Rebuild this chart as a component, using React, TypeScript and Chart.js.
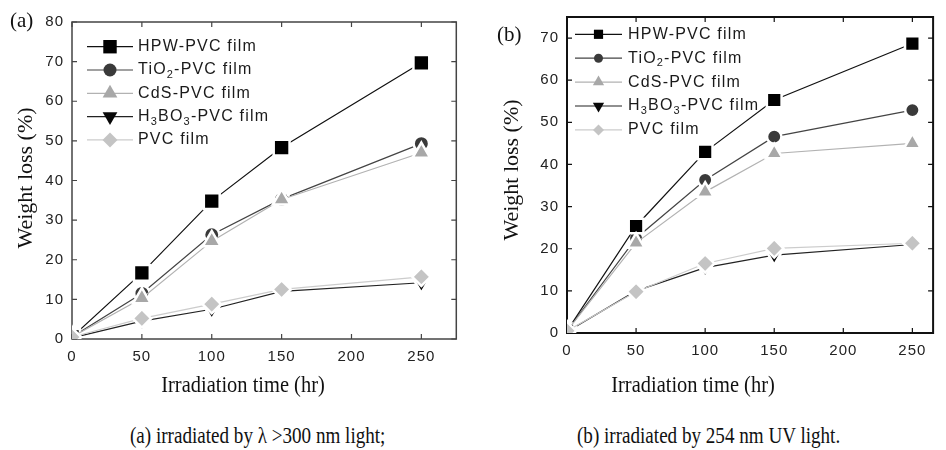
import React, { useEffect, useRef } from 'react';
import { Chart, registerables } from 'chart.js';

Chart.register(...registerables);

// ---------- data ----------
const TIMES = [0, 50, 100, 150, 250];
const X_TICKS = [0, 50, 100, 150, 200, 250];

// (a) irradiated by λ > 300 nm light
const A_HPW = [0.5, 16.7, 34.8, 48.3, 69.7];
const A_TIO2 = [0.5, 11.5, 26.3, 35.3, 49.3];
const A_CDS = [0.5, 10.3, 24.7, 35.2, 47.0];
const A_H3BO3 = [0.3, 4.5, 7.5, 12.0, 14.2];
const A_PVC = [0.5, 5.2, 8.8, 12.5, 15.7];
const A_Y_TICKS = [0, 10, 20, 30, 40, 50, 60, 70, 80];

// (b) irradiated by 254 nm UV light
const B_HPW = [0.5, 25.4, 43.0, 55.3, 68.7];
const B_TIO2 = [0.5, 22.5, 36.3, 46.6, 52.9];
const B_CDS = [0.5, 21.4, 33.5, 42.6, 45.0];
const B_H3BO3 = [0.3, 10.0, 15.5, 18.5, 21.0];
const B_PVC = [0.5, 9.8, 16.5, 20.1, 21.3];
const B_Y_TICKS = [0, 10, 20, 30, 40, 50, 60, 70];

type Seg = { t: string; sub?: boolean };
const SERIES_NAMES: Seg[][] = [
  [{ t: 'HPW-PVC film' }],
  [{ t: 'TiO' }, { t: '2', sub: true }, { t: '-PVC film' }],
  [{ t: 'CdS-PVC film' }],
  [{ t: 'H' }, { t: '3', sub: true }, { t: 'BO' }, { t: '3', sub: true }, { t: '-PVC film' }],
  [{ t: 'PVC film' }],
];
const MARKER_COLORS = ['#000000', '#3a3a3a', '#a8a8a8', '#080808', '#c4c4c4'];
const LINE_COLORS = ['#111111', '#444444', '#b2b2b2', '#222222', '#cccccc'];
const MARKERS = ['rect', 'circle', 'triangle', 'triangle', 'rectRot'];
const MARKER_ROT = [0, 0, 0, 180, 0];
const DRAW_ORDER = [2, 3, 1, 4, 0];

const SANS = '"Liberation Sans", Arial, sans-serif';
const SERIF = '"Liberation Serif", "Times New Roman", serif';

function drawMarker(ctx: CanvasRenderingContext2D, style: string, rot: number, x: number, y: number, r: number, color: string) {
  ctx.save();
  ctx.fillStyle = color;
  ctx.beginPath();
  if (style === 'rect') {
    const s = r * Math.SQRT1_2;
    ctx.rect(x - s, y - s, 2 * s, 2 * s);
  } else if (style === 'circle') {
    ctx.arc(x, y, r, 0, Math.PI * 2);
  } else if (style === 'triangle') {
    const d = rot === 180 ? -1 : 1;
    ctx.moveTo(x, y - d * r);
    ctx.lineTo(x + r * 0.866, y + d * r * 0.5);
    ctx.lineTo(x - r * 0.866, y + d * r * 0.5);
    ctx.closePath();
  } else {
    ctx.moveTo(x, y - r);
    ctx.lineTo(x + r, y);
    ctx.lineTo(x, y + r);
    ctx.lineTo(x - r, y);
    ctx.closePath();
  }
  ctx.fill();
  ctx.restore();
}

const framePlugin = {
  id: 'frameTicks',
  beforeDraw(chart: any) {
    (chart.ctx as any).letterSpacing = '1px';
  },
  beforeDatasetsDraw(chart: any, _a: any, opts: any) {
    const { ctx, chartArea } = chart;
    const { left, top, right, bottom } = chartArea;
    ctx.save();
    ctx.strokeStyle = opts.color;
    ctx.lineWidth = opts.width;
    ctx.strokeRect(left, top, right - left, bottom - top);
    ctx.lineWidth = 1.2;
    const L = 5;
    ctx.beginPath();
    chart.scales.x.ticks.forEach((t: any) => {
      const x = chart.scales.x.getPixelForValue(t.value);
      ctx.moveTo(x, bottom);
      ctx.lineTo(x, bottom - L);
      ctx.moveTo(x, top);
      ctx.lineTo(x, top + L);
    });
    chart.scales.y.ticks.forEach((t: any) => {
      const y = chart.scales.y.getPixelForValue(t.value);
      ctx.moveTo(left, y);
      ctx.lineTo(left + L, y);
      ctx.moveTo(right, y);
      ctx.lineTo(right - L, y);
    });
    ctx.stroke();
    ctx.restore();
  },
};

const legendPlugin = {
  id: 'innerLegend',
  afterDraw(chart: any, _a: any, opts: any) {
    const ctx: CanvasRenderingContext2D = chart.ctx;
    ctx.save();
    (ctx as any).letterSpacing = '1.2px';
    SERIES_NAMES.forEach((segs, i) => {
      const y = opts.y0 + i * opts.dy;
      ctx.strokeStyle = LINE_COLORS[i];
      ctx.lineWidth = 1.2;
      ctx.beginPath();
      ctx.moveTo(opts.x1, y);
      ctx.lineTo(opts.x2, y);
      ctx.stroke();
      drawMarker(ctx, MARKERS[i], MARKER_ROT[i], (opts.x1 + opts.x2) / 2, y, opts.radii[i], MARKER_COLORS[i]);
      let x = opts.textX;
      ctx.fillStyle = '#1a1a1a';
      ctx.textAlign = 'left';
      ctx.textBaseline = 'middle';
      segs.forEach((s) => {
        ctx.font = s.sub ? `11px ${SANS}` : `16px ${SANS}`;
        ctx.fillText(s.t, x, s.sub ? y + 5 : y);
        x += ctx.measureText(s.t).width;
      });
    });
    ctx.restore();
    (ctx as any).letterSpacing = '0px';
  },
};

type PanelProps = {
  values: number[][];
  yTicks: number[];
  xMax: number;
  yMax: number;
  width: number;
  height: number;
  area: { left: number; top: number; right: number; bottom: number };
  radii: number[];
  legend: any;
  frameColor: string;
  frameWidth: number;
};

function Panel(p: PanelProps) {
  const ref = useRef<HTMLCanvasElement | null>(null);
  useEffect(() => {
    if (!ref.current) return;
    const datasets = p.values.map((vals, i) => ({
      label: SERIES_NAMES[i].map((s) => s.t).join(''),
      data: TIMES.map((t, k) => ({ x: t, y: vals[k] })),
      borderColor: LINE_COLORS[i],
      borderWidth: 1.2,
      backgroundColor: MARKER_COLORS[i],
      pointBackgroundColor: MARKER_COLORS[i],
      pointBorderColor: '#ffffff',
      pointBorderWidth: 2.5,
      pointStyle: MARKERS[i],
      rotation: MARKER_ROT[i],
      pointRotation: MARKER_ROT[i],
      pointRadius: p.radii[i] + 1.2,
      order: DRAW_ORDER[i],
      tension: 0,
      fill: false,
    }));
    const tickFont = { family: SANS, size: 15 };
    const chart = new Chart(ref.current, {
      type: 'line',
      data: { datasets },
      plugins: [framePlugin, legendPlugin],
      options: {
        responsive: false,
        maintainAspectRatio: false,
        animation: false,
        layout: { padding: { left: 0, top: p.area.top, right: p.width - p.area.right, bottom: 0 } },
        plugins: {
          legend: { display: false },
          tooltip: { enabled: false },
          frameTicks: { color: p.frameColor, width: p.frameWidth },
          innerLegend: p.legend,
        } as any,
        scales: {
          x: {
            type: 'linear',
            min: 0,
            max: p.xMax,
            afterBuildTicks: (s: any) => {
              s.ticks = X_TICKS.map((v) => ({ value: v }));
            },
            afterFit: (s: any) => {
              s.height = p.height - p.area.bottom;
            },
            grid: { display: false, drawTicks: false },
            border: { display: false },
            ticks: { padding: 9, font: tickFont, color: '#222', maxRotation: 0, autoSkip: false },
          },
          y: {
            type: 'linear',
            min: 0,
            max: p.yMax,
            afterBuildTicks: (s: any) => {
              s.ticks = p.yTicks.map((v) => ({ value: v }));
            },
            afterFit: (s: any) => {
              s.width = p.area.left;
            },
            grid: { display: false, drawTicks: false },
            border: { display: false },
            ticks: { padding: 8, font: tickFont, color: '#222', autoSkip: false },
          },
        },
      } as any,
    });
    return () => chart.destroy();
  }, []);
  return <canvas ref={ref} width={p.width} height={p.height} style={{ width: p.width, height: p.height, display: 'block' }} />;
}

const abs = (left: number, top: number, extra: any = {}) => ({
  position: 'absolute' as const,
  left,
  top,
  whiteSpace: 'nowrap' as const,
  fontFamily: SERIF,
  color: '#111',
  ...extra,
});

export default function App() {
  return (
    <div style={{ position: 'absolute', left: 0, top: 0, width: 946, height: 450, background: '#fff', overflow: 'hidden' }}>
      <div style={{ position: 'absolute', left: 0, top: 0 }}>
        <Panel
          values={[A_HPW, A_TIO2, A_CDS, A_H3BO3, A_PVC]}
          yTicks={A_Y_TICKS}
          xMax={275}
          yMax={80}
          width={470}
          height={400}
          area={{ left: 72, top: 22, right: 462, bottom: 339 }}
          radii={[10, 6.5, 9, 9, 8]}
          legend={{ x1: 87, x2: 133, textX: 138, y0: 46.7, dy: 23.3, radii: [9.5, 6.5, 8.5, 8.5, 7.5] }}
          frameColor="#444"
          frameWidth={1.5}
        />
      </div>
      <div style={{ position: 'absolute', left: 480, top: 0 }}>
        <Panel
          values={[B_HPW, B_TIO2, B_CDS, B_H3BO3, B_PVC]}
          yTicks={B_Y_TICKS}
          xMax={265}
          yMax={75}
          width={466}
          height={400}
          area={{ left: 87, top: 17, right: 464, bottom: 333 }}
          radii={[9.2, 6, 8.5, 8.5, 8]}
          legend={{ x1: 95, x2: 142, textX: 148, y0: 34.3, dy: 23.9, radii: [6.5, 4.5, 6.5, 6.5, 5.5] }}
          frameColor="#111"
          frameWidth={2}
        />
      </div>

      <div style={abs(10, 8, { fontSize: 21, lineHeight: '24px' })}>(a)</div>
      <div style={abs(497, 22, { fontSize: 21, lineHeight: '24px' })}>(b)</div>

      <div style={abs(25, 178, { fontSize: 22, lineHeight: '24px', transform: 'translate(-50%, -50%) rotate(-90deg)' })}>Weight loss (%)</div>
      <div style={abs(511, 170, { fontSize: 22, lineHeight: '24px', transform: 'translate(-50%, -50%) rotate(-90deg)' })}>Weight loss (%)</div>

      <div style={abs(243, 372, { fontSize: 23.5, lineHeight: '24px', transform: 'translateX(-50%) scaleX(0.87)' })}>Irradiation time (hr)</div>
      <div style={abs(693, 372, { fontSize: 23.5, lineHeight: '24px', transform: 'translateX(-50%) scaleX(0.87)' })}>Irradiation time (hr)</div>

      <div style={abs(130, 424, { fontSize: 23, lineHeight: '24px', transform: 'scaleX(0.83)', transformOrigin: 'left center' })}>(a) irradiated by λ &gt;300 nm light;</div>
      <div style={abs(577, 424, { fontSize: 23, lineHeight: '24px', transform: 'scaleX(0.83)', transformOrigin: 'left center' })}>(b) irradiated by 254 nm UV light.</div>
    </div>
  );
}
